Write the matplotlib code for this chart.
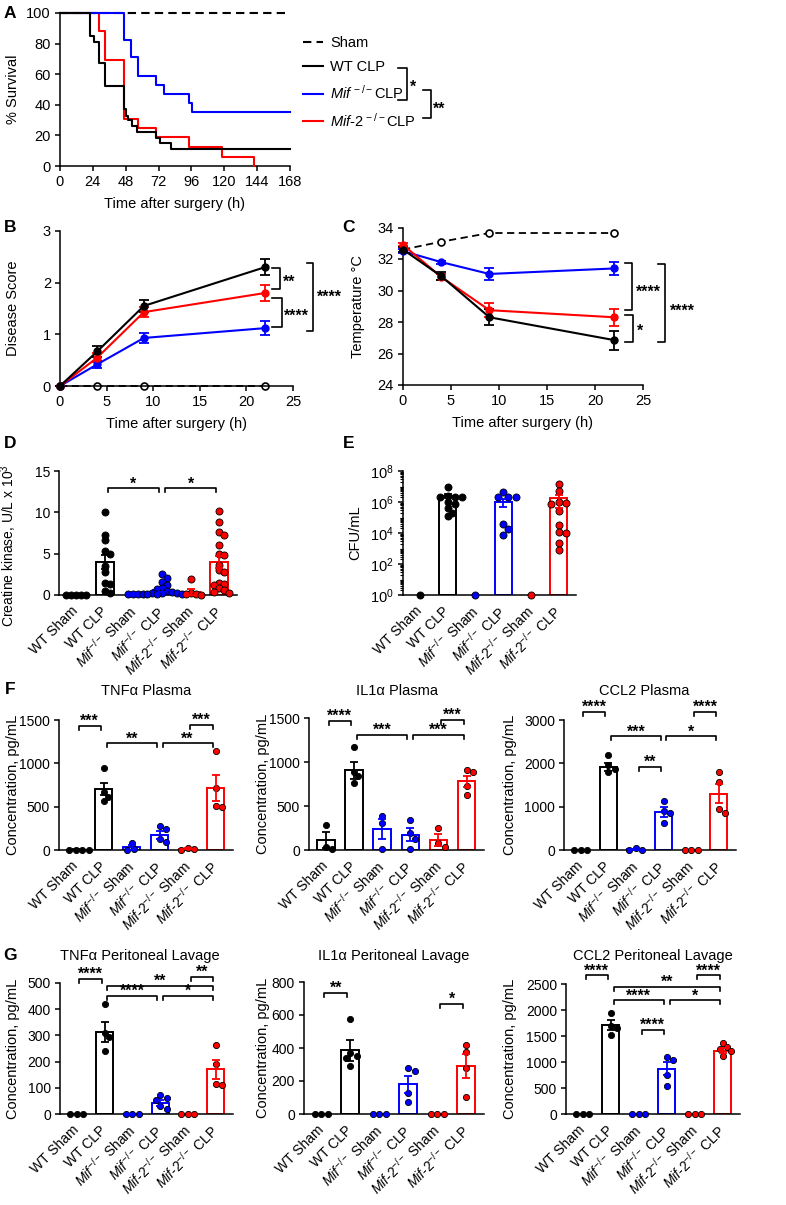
import numpy as np
import matplotlib
matplotlib.use("Agg")
import matplotlib.pyplot as plt
from matplotlib import ticker
from matplotlib.lines import Line2D

# ------------------------------------------------------------------ data
# A: Kaplan-Meier survival (step times in h, % survival)
surv_sham_t = [0, 168]
surv_sham_s = [100, 100]
surv_wt_t = [0, 22, 25, 28.4, 33, 46.5, 48, 49.6, 52.6, 56.2, 70.2, 73.4, 81.2, 168]
surv_wt_s = [100, 85, 81, 67, 52, 37, 33, 30, 26, 22, 18.5, 15, 11, 11]
surv_mif_t = [0, 46.5, 52, 57, 70, 76, 94.2, 96.6, 168]
surv_mif_s = [100, 82.5, 71, 59, 53, 47, 41, 35, 35]
surv_mif2_t = [0, 28.4, 33, 46.5, 57, 70.2, 94, 118, 142]
surv_mif2_s = [100, 88, 69, 31, 25, 19, 12.5, 6, 0]

# B: disease score over time
time_h = [0, 4, 9, 22]
score_sham = [0, 0, 0, 0]
score_wt = [0, 0.67, 1.55, 2.30]
score_wt_err = [0, 0.10, 0.11, 0.15]
score_mif = [0, 0.42, 0.93, 1.12]
score_mif_err = [0, 0.07, 0.10, 0.13]
score_mif2 = [0, 0.55, 1.43, 1.80]
score_mif2_err = [0, 0.08, 0.09, 0.15]

# C: temperature over time
temp_sham = [32.6, 33.1, 33.65, 33.65]
temp_wt = [32.6, 30.9, 28.3, 26.85]
temp_wt_err = [0.15, 0.25, 0.5, 0.6]
temp_mif = [32.5, 31.8, 31.05, 31.4]
temp_mif_err = [0.15, 0.1, 0.4, 0.4]
temp_mif2 = [32.9, 30.85, 28.75, 28.3]
temp_mif2_err = [0.1, 0.2, 0.45, 0.55]

# bar-chart groups
groups = ['WT Sham', 'WT CLP',
          r'$\mathit{Mif}^{-/-}$ Sham', r'$\mathit{Mif}^{-/-}$ CLP',
          r'$\mathit{Mif}$-$\mathit{2}^{-/-}$ Sham', r'$\mathit{Mif}$-$\mathit{2}^{-/-}$ CLP']

# D: creatine kinase (U/L x 10^3)
ck_mean = [0.0, 4.0, 0.05, 0.6, 0.4, 4.0]
ck_sem = [0.0, 0.85, 0.02, 0.2, 0.35, 0.75]
ck_dots = [[0, 0, 0, 0, 0],
           [10.0, 7.3, 6.6, 5.3, 5.0, 3.5, 2.8, 1.5, 1.3, 0.5, 0.2],
           [0.1, 0.1, 0.1, 0.1],
           [2.5, 2.1, 1.6, 1.2, 0.9, 0.7, 0.5, 0.4, 0.3, 0.3, 0.2, 0.1, 0.1, 0.1],
           [1.9, 0.2, 0.1, 0.1, 0.0],
           [10.2, 8.8, 7.6, 7.3, 6.0, 5.0, 4.8, 3.6, 3.0, 2.8, 1.5, 1.3, 1.2, 0.8, 0.6, 0.4, 0.3]]

# E: CFU/mL, read as log10 values
cfu_mean_log = [0, 6.4, 0, 5.98, 0, 6.24]
cfu_sem = [0, 7e5, 0, 5e5, 0, 1.3e6]
cfu_dots_log = [[0],
                [7.0, 6.4, 6.35, 6.3, 6.3, 6.0, 5.9, 5.6, 5.3, 5.1],
                [0],
                [6.65, 6.35, 6.35, 6.3, 4.55, 4.25, 3.85],
                [0],
                [7.15, 6.7, 6.0, 5.95, 5.9, 5.4, 4.5, 4.05, 4.0, 3.35, 2.9]]

# F: plasma (pg/mL)
tnf_pl_mean = [5, 700, 30, 175, 15, 710]
tnf_pl_sem = [3, 70, 25, 45, 5, 150]
tnf_pl_dots = [[5, 3, 2, 1], [950, 670, 610, 560], [80, 15, 5],
               [280, 245, 125, 95], [20, 10, 5], [1140, 710, 510, 500]]
il1_pl_mean = [110, 905, 235, 175, 115, 780]
il1_pl_sem = [90, 95, 115, 75, 70, 60]
il1_pl_dots = [[280, 35, 15], [1170, 890, 840, 760], [390, 310, 10],
               [345, 190, 130, 10], [250, 80, 35], [905, 885, 730, 630]]
ccl2_pl_mean = [0, 1920, 20, 880, 0, 1300]
ccl2_pl_sem = [0, 95, 10, 110, 0, 220]
ccl2_pl_dots = [[0, 0, 0], [2190, 1960, 1870, 1810], [40, 10, 5],
                [1140, 905, 845, 630], [0, 0, 0], [1790, 1580, 940, 860]]

# G: peritoneal lavage (pg/mL)
tnf_pe_mean = [0, 312, 0, 42, 0, 170]
tnf_pe_sem = [0, 38, 0, 10, 0, 35]
tnf_pe_dots = [[0, 0, 0], [420, 310, 293, 242], [0, 0, 0],
               [74, 61, 55, 29, 19], [0, 0, 0], [262, 190, 115, 112]]
il1_pe_mean = [0, 385, 0, 180, 0, 290]
il1_pe_sem = [0, 63, 0, 52, 0, 74]
il1_pe_dots = [[0, 0, 0], [575, 370, 350, 340, 290], [0, 0, 0],
               [280, 262, 125, 72], [0, 0, 0], [418, 378, 280, 104]]
ccl2_pe_mean = [0, 1710, 0, 870, 0, 1215]
ccl2_pe_sem = [0, 90, 0, 125, 0, 45]
ccl2_pe_dots = [[0, 0, 0], [1940, 1700, 1655, 1525], [0, 0, 0],
                [1105, 1045, 755, 530], [0, 0, 0], [1365, 1285, 1250, 1205, 1110]]

# significance brackets: (group i, group j, height, label)
ck_sig = [(1, 3, 12.9, '*'), (3, 5, 12.9, '*')]
tnf_pl_sig = [(0, 1, 1430, '***'), (1, 3, 1230, '**'), (3, 5, 1230, '**'), (4, 5, 1440, '***')]
il1_pl_sig = [(0, 1, 1470, '****'), (1, 3, 1310, '***'), (3, 5, 1310, '***'), (4, 5, 1480, '***')]
ccl2_pl_sig = [(0, 1, 3180, '****'), (1, 3, 2620, '***'), (2, 3, 1920, '**'),
               (3, 5, 2620, '*'), (4, 5, 3190, '****')]
tnf_pe_sig = [(0, 1, 516, '****'), (1, 5, 490, '**'), (1, 3, 452, '****'),
              (3, 5, 452, '*'), (4, 5, 522, '**')]
il1_pe_sig = [(0, 1, 736, '**'), (4, 5, 669, '*')]
ccl2_pe_sig = [(0, 1, 2667, '****'), (1, 5, 2442, '**'), (1, 3, 2186, '****'),
               (3, 5, 2186, '*'), (2, 3, 1615, '****'), (4, 5, 2667, '****')]

# ------------------------------------------------------------------ style
plt.rcParams['font.family'] = ['Liberation Sans', 'DejaVu Sans']
plt.rcParams['mathtext.fontset'] = 'custom'
plt.rcParams['mathtext.rm'] = 'Liberation Sans'
plt.rcParams['mathtext.it'] = 'Liberation Sans:italic'
plt.rcParams['mathtext.bf'] = 'Liberation Sans:bold'
plt.rcParams['axes.linewidth'] = 1.1

BLACK, BLUE, RED = '#000000', '#0000ff', '#ff0000'
group_colors = [BLACK, BLACK, BLUE, BLUE, RED, RED]
FS = 10.5
STAR_FS = 11.5

W, H = 786, 1205
fig = plt.figure(figsize=(W / 100, H / 100), dpi=100)


def add_ax(x0, y0, x1, y1):
    ax = fig.add_axes([x0 / W, 1 - y1 / H, (x1 - x0) / W, (y1 - y0) / H])
    for s in ('top', 'right'):
        ax.spines[s].set_visible(False)
    ax.tick_params(direction='out', length=3.5, width=1.1, labelsize=FS, pad=3)
    return ax


def fpx(x, y):
    return x / W, 1 - y / H


def ylabel_px(ax, text, right_px, fs=FS, yfrac=0.5):
    bb = ax.get_position()
    x0 = bb.x0 * W
    ax.set_ylabel(text, fontsize=fs)
    ax.yaxis.set_label_coords((right_px - x0) / (bb.width * W), yfrac)


def xlabel_below(ax, text, px_below=31):
    bb = ax.get_position()
    ax.set_xlabel(text, fontsize=FS)
    ax.xaxis.set_label_coords(0.5, -px_below / (bb.height * H))


def star(ax, x, y, s, ha='center', centered=False):
    dy = -0.57 * STAR_FS if centered else 0
    ax.annotate(s, xy=(x, y), xytext=(0, dy), textcoords='offset points',
                ha=ha, va='baseline', fontsize=STAR_FS, fontweight='bold',
                annotation_clip=False)


def vbracket(ax, xt, xv, y1, y2, s, xs, ys):
    ax.plot([xt, xv, xv, xt], [y1, y1, y2, y2], color='k', lw=1.2, clip_on=False)
    star(ax, xs, ys, s, ha='left', centered=True)


def panel_letter(x, y, s):
    fig.text(*fpx(x, y), s, fontsize=12.5, fontweight='bold', ha='left', va='center')


def swarm(ax, center, values, diam_px, factor):
    pts = ax.transData.transform(np.column_stack([np.full(len(values), center, dtype=float),
                                                  np.asarray(values, dtype=float)]))
    step = diam_px * 0.35
    cands = [0.0]
    for k in range(1, 40):
        cands += [k * step, -k * step]
    placed, offs = [], []
    for y in pts[:, 1]:
        for c in cands:
            if all((c - px) ** 2 + (y - py) ** 2 >= (diam_px * factor) ** 2 for px, py in placed):
                break
        placed.append((c, y))
        offs.append(c)
    unit = ax.transData.transform((1, 0))[0] - ax.transData.transform((0, 0))[0]
    return center + np.array(offs) / unit


def bar_panel(box, means, sems, dots, ylim, yticks, sig, title=None, tpos=(0.5, 1.18),
              ylab=None, ylab_px=None, ylab_fs=FS, ylab_y=0.5, log=False, dot_s=20,
              factor=0.95, xfs=10):
    ax = add_ax(*box)
    ax.set_xlim(-0.6, 5.62)
    if log:
        ax.set_yscale('log')
    ax.set_ylim(*ylim)
    base = ylim[0] if log else 0
    diam = np.sqrt(dot_s) * 100 / 72
    for i, (m, s, d, c) in enumerate(zip(means, sems, dots, group_colors)):
        if m > base:
            ax.bar(i, m - base, bottom=base, width=0.62, facecolor='white', edgecolor=c,
                   linewidth=1.4, zorder=2)
        xs = swarm(ax, i, d, diam, factor)
        ax.scatter(xs, d, s=dot_s, facecolor=c, edgecolor='k', linewidth=0.6, zorder=3,
                   clip_on=False)
        if s > 0:
            ax.errorbar(i, m, yerr=s, fmt='none', ecolor=c, elinewidth=1.3, capsize=3,
                        capthick=1.3, zorder=4, clip_on=False)
    if not log:
        ax.set_yticks(yticks)
    ax.set_xticks(range(len(groups)))
    ax.set_xticklabels(groups, rotation=45, ha='right', va='center', rotation_mode='anchor',
                       fontsize=xfs)
    ax.tick_params(axis='x', length=0, pad=10)
    ax.tick_params(axis='y', labelsize=10)
    # brackets
    bb = ax.get_position()
    hpx = bb.height * H
    for (i, j, y, s) in sig:
        if log:
            tick = y / (10 ** (4 / hpx * np.log10(ylim[1] / ylim[0])))
        else:
            tick = y - 4 / hpx * (ylim[1] - ylim[0])
        ax.plot([i + 0.1, i + 0.1, j - 0.1, j - 0.1], [tick, y, y, tick], color='k', lw=1.2,
                clip_on=False)
        star(ax, (i + j) / 2, y, s)
    if title:
        ax.text(tpos[0], tpos[1], title, transform=ax.transAxes, ha='center', va='baseline',
                fontsize=FS)
    if ylab:
        ylabel_px(ax, ylab, ylab_px, fs=ylab_fs, yfrac=ylab_y)
    return ax


# ------------------------------------------------------------------ A
axA = add_ax(60, 13, 290, 166)
axA.step(surv_sham_t, surv_sham_s, where='post', color=BLACK, lw=1.5, dashes=(4, 2.5),
         clip_on=False)
axA.step(surv_wt_t, surv_wt_s, where='post', color=BLACK, lw=1.5, clip_on=False, zorder=4)
axA.step(surv_mif2_t, surv_mif2_s, where='post', color=RED, lw=1.5, clip_on=False, zorder=3)
axA.step(surv_mif_t, surv_mif_s, where='post', color=BLUE, lw=1.5, clip_on=False, zorder=3)
axA.set_xlim(0, 168)
axA.set_ylim(0, 100)
axA.set_xticks(np.arange(0, 169, 24))
axA.set_yticks(np.arange(0, 101, 20))
ylabel_px(axA, '% Survival', 20)
xlabel_below(axA, 'Time after surgery (h)')
handles = [Line2D([], [], color=BLACK, lw=1.5, dashes=(4, 2.5)),
           Line2D([], [], color=BLACK, lw=1.5),
           Line2D([], [], color=BLUE, lw=1.5),
           Line2D([], [], color=RED, lw=1.5)]
labels = ['Sham', 'WT CLP', r'$\mathit{Mif}^{\,-/-}$CLP', r'$\mathit{Mif}$-$\mathit{2}^{\,-/-}$CLP']
axA.legend(handles, labels, loc='upper left', bbox_to_anchor=fpx(303, 36),
           bbox_transform=fig.transFigure, frameon=False, handlelength=1.35,
           handletextpad=0.5, labelspacing=0.68, borderaxespad=0, borderpad=0, fontsize=FS)
for (xt, xv, y1, y2) in [(398, 407, 68, 100), (423, 431, 90, 118)]:
    fig.add_artist(Line2D([xt / W, xv / W, xv / W, xt / W],
                          [1 - y1 / H, 1 - y1 / H, 1 - y2 / H, 1 - y2 / H],
                          color='k', lw=1.2, transform=fig.transFigure))
fig.text(*fpx(410, 92), '*', fontsize=STAR_FS, fontweight='bold', ha='left', va='baseline')
fig.text(*fpx(433, 114), '**', fontsize=STAR_FS, fontweight='bold', ha='left', va='baseline')

# ------------------------------------------------------------------ B
axB = add_ax(60, 231, 293, 386)
axB.plot(time_h, score_sham, color=BLACK, lw=1.3, dashes=(4, 2.5), marker='o', ms=5,
         mfc='white', mec=BLACK, mew=1.2, clip_on=False, zorder=2)
for y, e, c in [(score_mif, score_mif_err, BLUE), (score_mif2, score_mif2_err, RED),
                (score_wt, score_wt_err, BLACK)]:
    axB.errorbar(time_h, y, yerr=e, color=c, lw=1.5, marker='o', ms=5, capsize=3.5,
                 capthick=1.3, elinewidth=1.3, clip_on=False, zorder=3)
axB.set_xlim(0, 25)
axB.set_ylim(0, 3)
axB.set_xticks(np.arange(0, 26, 5))
axB.set_yticks([0, 1, 2, 3])
ylabel_px(axB, 'Disease Score', 20)
xlabel_below(axB, 'Time after surgery (h)')
vbracket(axB, 22.7, 23.6, 2.28, 1.88, '**', 23.9, 2.09)
vbracket(axB, 22.7, 23.8, 1.70, 1.14, '****', 24.0, 1.43)
vbracket(axB, 26.5, 27.1, 2.38, 1.06, '****', 27.6, 1.80)

# ------------------------------------------------------------------ C
axC = add_ax(403, 227.5, 643, 385)
axC.plot(time_h, temp_sham, color=BLACK, lw=1.3, dashes=(4, 2.5), marker='o', ms=5,
         mfc='white', mec=BLACK, mew=1.2, clip_on=False, zorder=2)
for y, e, c in [(temp_mif, temp_mif_err, BLUE), (temp_mif2, temp_mif2_err, RED),
                (temp_wt, temp_wt_err, BLACK)]:
    axC.errorbar(time_h, y, yerr=e, color=c, lw=1.5, marker='o', ms=5, capsize=3.5,
                 capthick=1.3, elinewidth=1.3, clip_on=False, zorder=3)
axC.set_xlim(0, 25)
axC.set_ylim(24, 34)
axC.set_xticks(np.arange(0, 26, 5))
axC.set_yticks(np.arange(24, 35, 2))
ylabel_px(axC, 'Temperature °C', 365)
xlabel_below(axC, 'Time after surgery (h)')
vbracket(axC, 23.1, 23.85, 31.75, 28.75, '****', 24.3, 30.2)
vbracket(axC, 23.1, 23.95, 28.45, 26.73, '*', 24.4, 27.7)
vbracket(axC, 26.6, 27.3, 31.7, 26.7, '****', 27.8, 29.0)

# ------------------------------------------------------------------ D
bar_panel((59, 471, 237, 595), ck_mean, ck_sem, ck_dots, (0, 15), [0, 5, 10, 15], ck_sig,
          ylab=r'Creatine kinase, U/L x 10$^3$', ylab_px=19, ylab_fs=10, ylab_y=0.4,
          dot_s=26, factor=0.7)

# ------------------------------------------------------------------ E
cfu_mean = [10 ** v for v in cfu_mean_log]
cfu_dots = [[10 ** v for v in d] for d in cfu_dots_log]
axE = bar_panel((403, 471, 576, 595), cfu_mean, cfu_sem, cfu_dots, (1, 1e8), None, [],
                ylab='CFU/mL', ylab_px=362, log=True, dot_s=26, factor=0.75)
axE.yaxis.set_major_locator(ticker.FixedLocator([1e0, 1e2, 1e4, 1e6, 1e8]))
axE.yaxis.set_major_formatter(ticker.FuncFormatter(lambda v, _: r'$10^{%d}$' % round(np.log10(v))))
axE.yaxis.set_minor_locator(ticker.LogLocator(base=10, subs=np.arange(1, 10), numticks=30))
axE.yaxis.set_minor_formatter(ticker.NullFormatter())
axE.tick_params(axis='y', which='minor', length=2.2, width=0.8, direction='out')
axE.tick_params(axis='y', which='major', labelsize=10.5)

# ------------------------------------------------------------------ F
CONC = 'Concentration, pg/mL'
bar_panel((59, 720, 233, 850), tnf_pl_mean, tnf_pl_sem, tnf_pl_dots, (0, 1500),
          [0, 500, 1000, 1500], tnf_pl_sig, title='TNFα Plasma', tpos=(0.5, 1.19),
          ylab=CONC, ylab_px=20)
bar_panel((309, 718, 484, 850), il1_pl_mean, il1_pl_sem, il1_pl_dots, (0, 1500),
          [0, 500, 1000, 1500], il1_pl_sig, title='IL1α Plasma', tpos=(0.5, 1.175),
          ylab=CONC, ylab_px=270)
bar_panel((564, 720, 736, 850), ccl2_pl_mean, ccl2_pl_sem, ccl2_pl_dots, (0, 3000),
          [0, 1000, 2000, 3000], ccl2_pl_sig, title='CCL2 Plasma', tpos=(0.465, 1.19),
          ylab=CONC, ylab_px=517)

# ------------------------------------------------------------------ G
bar_panel((60, 983, 233, 1114), tnf_pe_mean, tnf_pe_sem, tnf_pe_dots, (0, 500),
          np.arange(0, 501, 100), tnf_pe_sig, title='TNFα Peritoneal Lavage', tpos=(0.462, 1.176),
          ylab=CONC, ylab_px=20)
bar_panel((304, 982, 484, 1114), il1_pe_mean, il1_pe_sem, il1_pe_dots, (0, 800),
          np.arange(0, 801, 200), il1_pe_sig, title='IL1α Peritoneal Lavage', tpos=(0.5, 1.167),
          ylab=CONC, ylab_px=270)
bar_panel((566, 984, 740, 1114), ccl2_pe_mean, ccl2_pe_sem, ccl2_pe_dots, (0, 2500),
          np.arange(0, 2501, 500), ccl2_pe_sig, title='CCL2 Peritoneal Lavage', tpos=(0.5, 1.185),
          ylab=CONC, ylab_px=517)

# ------------------------------------------------------------------ letters
for (x, y, s) in [(4, 13, 'A'), (4, 228, 'B'), (342, 228, 'C'), (4, 443, 'D'),
                  (343, 443, 'E'), (5, 690, 'F'), (3, 955, 'G')]:
    panel_letter(x, y, s)

fig.savefig('out.png', dpi=100)
